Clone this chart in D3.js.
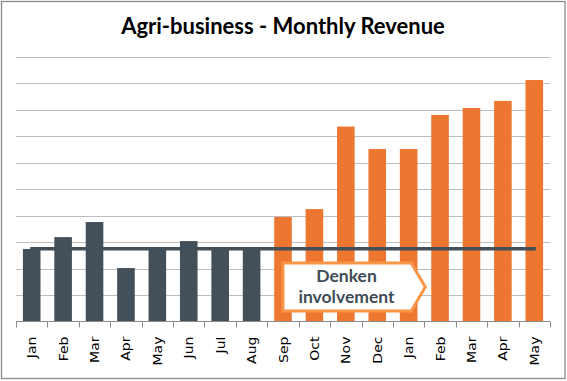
<!DOCTYPE html>
<html>
<head>
<meta charset="utf-8">
<script src="https://cdn.jsdelivr.net/npm/d3@7"></script>
<style>
	body { margin: 0; background: #fff; }
	svg { display: block; }
</style>
</head>
<body>
<svg></svg>
<script>
var months = ['Jan', 'Feb', 'Mar', 'Apr', 'May', 'Jun', 'Jul', 'Aug', 'Sep', 'Oct', 'Nov', 'Dec', 'Jan', 'Feb', 'Mar', 'Apr', 'May'];
var revenue = [27.4, 31.9, 37.6, 20.2, 27.9, 30.4, 27.9, 27.9, 39.5, 42.5, 73.7, 65.2, 65.2, 78.1, 80.7, 83.4, 91.3];
var before = [true, true, true, true, true, true, true, true, false, false, false, false, false, false, false, false, false];
var baseline = 27.5;
var gridTicks = [0, 10, 20, 30, 40, 50, 60, 70, 80, 90, 100];

var width = 567;
var height = 381;
var margin = {
	top: 57,
	bottom: 59.5,
	left: 16,
	right: 17
};

var dark = '#434f59';
var orange = '#ed7731';

var svg = d3.select('svg')
	.attr('width', width)
	.attr('height', height);

// outer frame
svg.append('rect')
	.attr('x', 1.5)
	.attr('y', 1.5)
	.attr('width', width - 3.5)
	.attr('height', height - 4)
	.attr('fill', '#fff')
	.attr('stroke', '#8a8a8a')
	.attr('stroke-width', 1.3);

svg.append('text')
	.attr('x', 283)
	.attr('y', 33.5)
	.attr('text-anchor', 'middle')
	.attr('font-family', 'Lato, sans-serif')
	.attr('font-weight', 'bold')
	.attr('font-size', 22)
	.attr('fill', '#000')
	.text('Agri-business - Monthly Revenue');

var x = d3.scaleBand()
	.domain(d3.range(months.length))
	.range([margin.left, width - margin.right])
	.paddingInner(0.44)
	.paddingOuter(0.22);

var xTicks = d3.scaleLinear()
	.domain([0, months.length])
	.range([margin.left, width - margin.right]);

var y = d3.scaleLinear()
	.domain([0, 100])
	.range([height - margin.bottom, margin.top]);

// gridlines
svg.append('g')
	.selectAll('line')
	.data(gridTicks.slice(1))
	.join('line')
	.attr('x1', margin.left)
	.attr('x2', width - margin.right)
	.attr('y1', function(d) { return Math.round(y(d)) + 0.5; })
	.attr('y2', function(d) { return Math.round(y(d)) + 0.5; })
	.attr('stroke', '#bdbdbd')
	.attr('stroke-width', 1);

svg.append('g')
	.selectAll('rect')
	.data(revenue)
	.join('rect')
	.attr('x', function(d, i) { return x(i); })
	.attr('y', function(d) { return y(d); })
	.attr('width', x.bandwidth())
	.attr('height', function(d) { return y(0) - y(d); })
	.attr('fill', function(d, i) { return before[i] ? dark : orange; });

// baseline average line
var lineFunction = d3.line()
	.x(function(d) { return d.x; })
	.y(function(d) { return y(d.y); });

svg.append('path')
	.attr('d', lineFunction([
		{ x: x(0) + x.bandwidth() / 2 - 1.5, y: baseline },
		{ x: x(months.length - 1) + x.bandwidth() / 2 + 1.5, y: baseline }
	]))
	.attr('stroke', dark)
	.attr('stroke-width', 3.6)
	.attr('fill', 'none');

// x axis
var axis = svg.append('g');

axis.append('line')
	.attr('x1', margin.left)
	.attr('x2', width - margin.right)
	.attr('y1', y(0))
	.attr('y2', y(0))
	.attr('stroke', '#8c8c8c')
	.attr('stroke-width', 1);

axis.selectAll('.tick')
	.data(d3.range(months.length + 1))
	.join('line')
	.attr('class', 'tick')
	.attr('x1', function(d) { return Math.round(xTicks(d)) + 0.5; })
	.attr('x2', function(d) { return Math.round(xTicks(d)) + 0.5; })
	.attr('y1', y(0))
	.attr('y2', y(0) + 6)
	.attr('stroke', '#8c8c8c')
	.attr('stroke-width', 1);

axis.selectAll('.label')
	.data(months)
	.join('text')
	.attr('class', 'label')
	.attr('transform', function(d, i) {
		return `translate(${x(i) + x.bandwidth() / 2 + 4.5},${y(0) + 15}) rotate(-90) scale(1.17,1)`;
	})
	.attr('text-anchor', 'end')
	.attr('font-family', 'DejaVu Sans, sans-serif')
	.attr('font-size', 12)
	.attr('fill', '#000')
	.text(function(d) { return d; });

// callout
var cLeft = x(8) + x.bandwidth() * 0.5;
var cRight = x(12) + x.bandwidth() * 0.65;
var cTop = y(22.1);
var cBottom = y(4);
var cMid = (cTop + cBottom) / 2;

svg.append('path')
	.attr('d', `M${cLeft},${cTop}L${cRight},${cTop}L${cRight + 14},${cMid}L${cRight},${cBottom}L${cLeft},${cBottom}Z`)
	.attr('fill', '#fff')
	.attr('stroke', '#f79646')
	.attr('stroke-width', 3);

var callout = svg.append('text')
	.attr('text-anchor', 'middle')
	.attr('font-family', 'Lato, sans-serif')
	.attr('font-weight', 'bold')
	.attr('font-size', 17.5)
	.attr('fill', '#3e4c58');

callout.append('tspan')
	.attr('x', 346.5)
	.attr('y', cTop + 18.5)
	.text('Denken');

callout.append('tspan')
	.attr('x', 346.5)
	.attr('dy', 21.5)
	.text('involvement');
</script>
</body>
</html>
